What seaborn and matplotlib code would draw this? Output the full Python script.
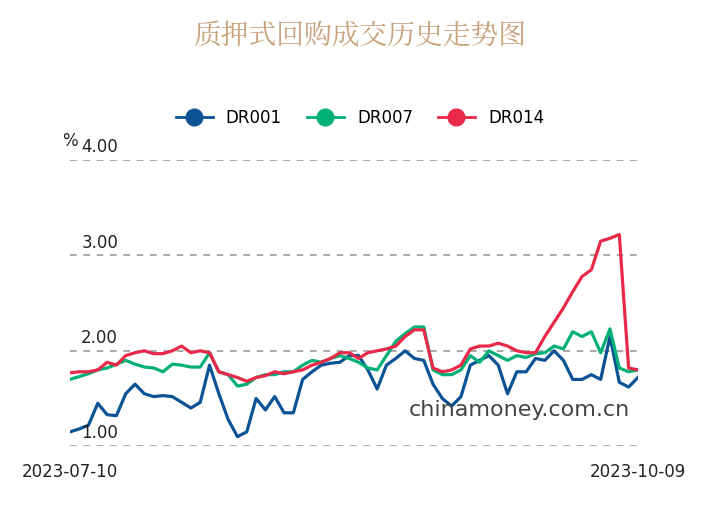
import matplotlib
matplotlib.use("Agg")
import matplotlib.pyplot as plt
from matplotlib import font_manager
import seaborn as sns
import pandas as pd
from matplotlib.lines import Line2D

dr001 = [1.15,1.18,1.22,1.45,1.33,1.32,1.55,1.65,1.55,1.52,1.53,1.52,1.46,1.40,1.46,1.85,1.55,1.28,1.10,1.15,
         1.50,1.38,1.52,1.35,1.35,1.70,1.78,1.85,1.87,1.88,1.95,1.95,1.80,1.60,1.85,1.92,2.00,1.92,1.90,1.65,
         1.50,1.42,1.52,1.85,1.90,1.95,1.85,1.55,1.78,1.78,1.92,1.90,2.00,1.90,1.70,1.70,1.75,1.70,2.15,1.67,1.62,1.72]
dr007 = [1.70,1.73,1.76,1.80,1.82,1.86,1.90,1.86,1.83,1.82,1.78,1.86,1.85,1.83,1.83,1.98,1.78,1.75,1.63,1.65,
         1.72,1.75,1.75,1.78,1.78,1.85,1.90,1.88,1.92,1.95,1.92,1.88,1.82,1.80,1.95,2.10,2.18,2.25,2.25,1.80,
         1.75,1.75,1.80,1.95,1.88,2.00,1.95,1.90,1.95,1.93,1.97,1.98,2.05,2.02,2.20,2.15,2.20,1.98,2.23,1.82,1.78,1.80]
dr014 = [1.77,1.78,1.78,1.80,1.88,1.85,1.95,1.98,2.00,1.97,1.97,2.00,2.05,1.98,2.00,1.98,1.78,1.75,1.72,1.68,
         1.72,1.74,1.78,1.76,1.78,1.80,1.85,1.88,1.92,1.98,1.98,1.92,1.98,2.00,2.02,2.05,2.15,2.22,2.22,1.82,
         1.78,1.80,1.85,2.02,2.05,2.05,2.08,2.05,2.00,1.98,1.98,2.15,2.30,2.45,2.62,2.78,2.85,3.15,3.18,3.22,1.82,1.80]
series_names = ["DR001", "DR007", "DR014"]
colors = ["#0B5394", "#00B077", "#E8294A"]
y_ticks = [1.0, 2.0, 3.0, 4.0]
x_labels = ["2023-07-10", "2023-10-09"]

cjk = None
for f in font_manager.fontManager.ttflist:
    if "CJK" in f.name and ("SC" in f.name or cjk is None):
        cjk = f.name
        if "SC" in f.name:
            break

n = len(dr001)
df = pd.DataFrame({"i": list(range(n)) * 3,
                   "v": dr001 + dr007 + dr014,
                   "s": [series_names[0]] * n + [series_names[1]] * n + [series_names[2]] * n})

fig = plt.figure(figsize=(7.2, 5.2), dpi=100)
ax = fig.add_axes([0.097, 0.142, 0.789, 0.55])
sns.lineplot(data=df, x="i", y="v", hue="s", palette=colors, linewidth=2.3, ax=ax, legend=False)
ax.set_xlim(0, n - 1)
ax.set_ylim(1.0, 4.0)
for t in y_ticks:
    ax.axhline(t, color="#999999", linestyle=(0, (4, 4)), linewidth=1.2, zorder=0)
    ax.text(0.02, t + 0.04, f"{t:.2f}", transform=ax.get_yaxis_transform(), fontsize=12,
            color="#222222", ha="left", va="bottom")
ax.set_yticks([])
ax.set_xticks([0, n - 1])
ax.set_xticklabels(x_labels, fontsize=12, color="#222222")
ax.tick_params(axis="x", length=0, pad=12)
for sp in ax.spines.values():
    sp.set_visible(False)
ax.set_xlabel(""); ax.set_ylabel("")
fig.text(0.086, 0.72, "%", fontsize=12, color="#222222")
fig.text(0.5, 0.93, "质押式回购成交历史走势图", fontsize=20, color="#C8A27A", ha="center",
         va="center", family=cjk)
fig.text(0.568, 0.2, "chinamoney.com.cn", fontsize=16, color="#444444")
handles = [Line2D([0], [0], color=c, lw=2, marker="o", markersize=12) for c in colors]
fig.legend(handles, series_names, loc="center", bbox_to_anchor=(0.5, 0.773), ncol=3, frameon=False,
           fontsize=12, handlelength=2.2, columnspacing=1.5)
fig.savefig("out.png", dpi=100)
